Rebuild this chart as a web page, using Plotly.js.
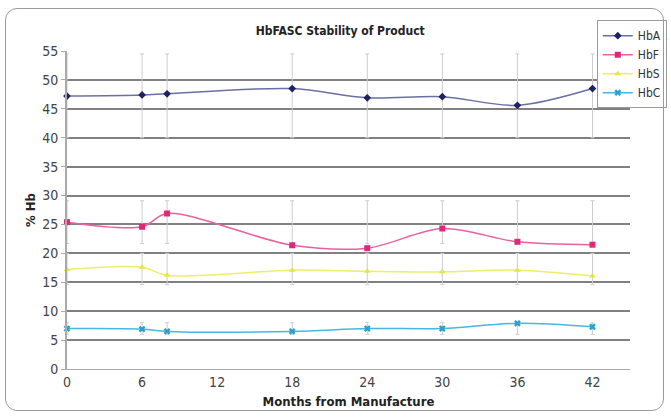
<!DOCTYPE html>
<html>
<head>
<meta charset="utf-8">
<script src="https://cdn.plot.ly/plotly-3.0.1.min.js"></script>
<style>
  html, body { margin: 0; padding: 0; background: #fff; }
  #wrap { position: relative; width: 671px; height: 417px; }
  #chart { width: 671px; height: 417px; }
  #frame { position: absolute; left: 5px; top: 8px; width: 657px; height: 401px;
           border: 1.5px solid #9a9a9a; border-radius: 12px; pointer-events: none; }
</style>
</head>
<body>
<div id="wrap">
  <div id="chart"></div>
  <div id="frame"></div>
</div>
<script>
// Data
const months = [0, 6, 8, 18, 24, 30, 36, 42];
const seriesNames = ["HbA", "HbF", "HbS", "HbC"];
const hbA = [47.2, 47.4, 47.6, 48.5, 46.9, 47.1, 45.6, 48.5];
const hbF = [25.4, 24.6, 26.9, 21.4, 20.9, 24.3, 22.0, 21.5];
const hbS = [17.2, 17.6, 16.2, 17.1, 16.9, 16.8, 17.1, 16.1];
const hbC = [7.0, 6.9, 6.5, 6.5, 7.0, 7.0, 7.9, 7.3];
// Acceptable range (error bar ends) for each series
const hbALow = 40.0, hbAHigh = 54.5;
const hbFLow = 21.7, hbFHigh = 29.1;
const hbSLow = 14.6, hbSHigh = 20.0;
const hbCLow = 6.0,  hbCHigh = 8.0;
const xTicks = [0, 6, 12, 18, 24, 30, 36, 42];
const yTicks = [0, 5, 10, 15, 20, 25, 30, 35, 40, 45, 50, 55];

const FONT = "'DejaVu Sans Condensed', 'Liberation Sans Narrow', 'Liberation Sans', sans-serif";

function errBar(vals, lo, hi) {
  return {
    type: 'data', symmetric: false,
    array: vals.map(v => hi - v),
    arrayminus: vals.map(v => v - lo),
    color: '#cccccc', thickness: 1, width: 2
  };
}

const styles = [
  { line: '#6a6fa6', marker: '#1e2260', symbol: 'diamond', size: 6 },
  { line: '#e8609f', marker: '#e0287a', symbol: 'square', size: 6 },
  { line: '#eeee6a', marker: '#e6e640', symbol: 'triangle-up', size: 6 },
  { line: '#46b8e0', marker: '#2a9fd0', symbol: 'x', size: 6 }
];
const values = [hbA, hbF, hbS, hbC];
const ranges = [[hbALow, hbAHigh], [hbFLow, hbFHigh], [hbSLow, hbSHigh], [hbCLow, hbCHigh]];

const traces = values.map((v, i) => ({
  type: 'scatter', mode: 'lines+markers',
  name: seriesNames[i], x: months, y: v,
  line: { color: styles[i].line, width: 1.5, shape: 'spline', smoothing: 0.9 },
  marker: { color: styles[i].marker, symbol: styles[i].symbol, size: styles[i].size },
  error_y: errBar(v, ranges[i][0], ranges[i][1]),
  cliponaxis: false
}));

const layout = {
  width: 671, height: 417,
  margin: { l: 67, r: 41, t: 51, b: 48, autoexpand: false },
  paper_bgcolor: '#ffffff', plot_bgcolor: '#ffffff',
  font: { family: FONT, color: '#333333', size: 13 },
  title: { text: '<b>HbFASC Stability of Product</b>', x: 0.507, xref: 'container',
           y: 0.925, yref: 'container', yanchor: 'middle',
           font: { family: FONT, size: 12, color: '#222222' } },
  xaxis: {
    range: [0, 45], tickvals: xTicks, ticktext: xTicks.map(String),
    showgrid: false, zeroline: false,
    showline: true, linecolor: '#aaaaaa', linewidth: 1,
    ticks: '', tickfont: { size: 14, color: '#444444' },
    title: { text: '<b>Months from Manufacture</b>', standoff: 8, font: { size: 13, color: '#222222' } }
  },
  yaxis: {
    range: [0, 55], tickvals: yTicks, ticktext: yTicks.map(String),
    showgrid: true, gridcolor: '#808080', gridwidth: 2,
    zeroline: false, showline: true, linecolor: '#aaaaaa', linewidth: 2,
    ticks: 'outside', ticklen: 4, tickcolor: '#aaaaaa',
    tickfont: { size: 14, color: '#444444' },
    title: { text: '<b>% Hb</b>', standoff: 4, font: { size: 13, color: '#222222' } }
  },
  showlegend: true,
  legend: {
    x: 0.941, y: 1.097, xanchor: 'left', yanchor: 'top',
    bgcolor: '#ffffff', bordercolor: '#9a9a9a', borderwidth: 1,
    font: { family: FONT, size: 12, color: '#333333' },
    tracegroupgap: 0, itemwidth: 30
  }
};

Plotly.newPlot('chart', traces, layout, { displayModeBar: false, staticPlot: true });
</script>
</body>
</html>
